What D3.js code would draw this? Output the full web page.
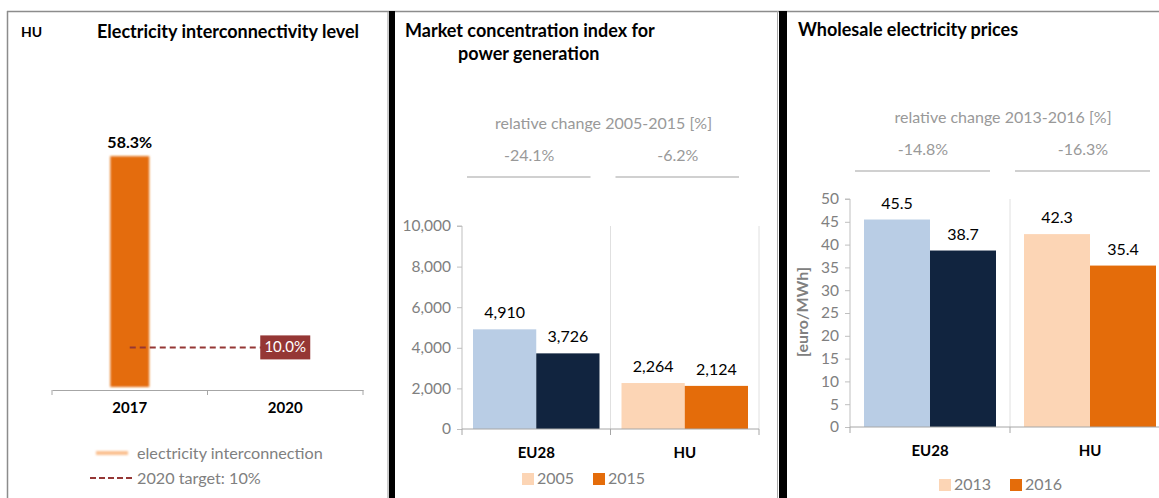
<!DOCTYPE html>
<meta charset="utf-8">
<head>
<style>
  body { margin: 0; background: #fff; font-family: Lato, "Open Sans", sans-serif; }
  svg { display: block; }
</style>
<script src="https://cdn.jsdelivr.net/npm/d3@7"></script>
</head>
<body>
<svg id="vis" width="1159" height="498"></svg>
<script>

// panel 1 - interconnectivity
const interYears = ["2017", "2020"]
const interValues = [58.3]
const interTarget = 10
const interLegend = ["electricity interconnection", "2020 target: 10%"]

// panel 2 - market concentration
const mciCategories = ["EU28", "HU"]
const mciSeries = ["2005", "2015"]
const mciEU28 = [4910, 3726]
const mciHU = [2264, 2124]
const mciChange = ["-24.1%", "-6.2%"]
const mciTicks = [0, 2000, 4000, 6000, 8000, 10000]

// panel 3 - wholesale prices
const priceCategories = ["EU28", "HU"]
const priceSeries = ["2013", "2016"]
const priceEU28 = [45.5, 38.7]
const priceHU = [42.3, 35.4]
const priceChange = ["-14.8%", "-16.3%"]
const priceTicks = [0, 5, 10, 15, 20, 25, 30, 35, 40, 45, 50]

const colors = {
    EU28: ["#b9cde5", "#11243f"],
    HU: ["#fcd5b5", "#e46c0a"]
}
const greyText = "#808080"
const lightText = "#999999"

let svg = d3.select("#vis")

// blur for the glowing bar
let defs = svg.append("defs")
defs.append("filter").attr("id", "soft")
    .attr("x", "-20%").attr("y", "-20%").attr("width", "140%").attr("height", "140%")
    .append("feGaussianBlur").attr("stdDeviation", 0.9)
defs.append("filter").attr("id", "softer")
    .attr("x", "-20%").attr("y", "-100%").attr("width", "140%").attr("height", "300%")
    .append("feGaussianBlur").attr("stdDeviation", 0.9)

function drawFrames() {
    svg.append("line").attr("x1", 7).attr("x2", 1159).attr("y1", 11.5).attr("y2", 11.5)
        .attr("stroke", "#8c8c8c").attr("stroke-width", 1.5)
    svg.append("line").attr("x1", 7.5).attr("x2", 7.5).attr("y1", 11).attr("y2", 498)
        .attr("stroke", "#8c8c8c").attr("stroke-width", 1.5)
    // thick separators
    svg.append("line").attr("x1", 388).attr("x2", 388).attr("y1", 11).attr("y2", 498).attr("stroke", "#999")
    svg.append("rect").attr("x", 389).attr("y", 11).attr("width", 6).attr("height", 487).attr("fill", "#000")
    svg.append("line").attr("x1", 777.5).attr("x2", 777.5).attr("y1", 11).attr("y2", 498).attr("stroke", "#aaa")
    svg.append("rect").attr("x", 779).attr("y", 11).attr("width", 8).attr("height", 487).attr("fill", "#000")
}

function drawInterconnection() {
    let xScale = d3.scaleBand().domain(interYears).range([52, 363])
    let yScale = d3.scaleLinear().domain([0, 60]).range([387, 149.4])
    let g = svg.append("g")

    g.append("text").attr("x", 21).attr("y", 37).text("HU")
        .attr("font-weight", "bold").attr("font-size", 14)
    g.append("text").attr("x", 97).attr("y", 38).text("Electricity interconnectivity level")
        .attr("font-weight", "bold").attr("font-size", 18)

    let barW = 39
    g.selectAll(".ibar").data(interValues).enter().append("rect")
        .attr("x", (d, i) => xScale(interYears[i]) + xScale.bandwidth() / 2 - barW / 2)
        .attr("y", d => yScale(d))
        .attr("width", barW)
        .attr("height", d => yScale(0) - yScale(d))
        .attr("fill", "#e46c0a")
        .attr("filter", "url(#soft)")
    g.selectAll(".ilab").data(interValues).enter().append("text")
        .attr("x", (d, i) => xScale(interYears[i]) + xScale.bandwidth() / 2)
        .attr("y", d => yScale(d) - 8)
        .attr("text-anchor", "middle").attr("font-weight", "bold").attr("font-size", 16)
        .text(d => d.toFixed(1) + "%")

    // target line
    let x0 = xScale(interYears[0]) + xScale.bandwidth() / 2
    let x1 = xScale(interYears[1]) + xScale.bandwidth() / 2
    g.append("line").attr("x1", x0).attr("x2", x1)
        .attr("y1", yScale(interTarget)).attr("y2", yScale(interTarget))
        .attr("stroke", "#953735").attr("stroke-width", 2).attr("stroke-dasharray", "6,4")
    g.append("rect").attr("x", x1 - 25).attr("y", yScale(interTarget) - 12)
        .attr("width", 50).attr("height", 24).attr("fill", "#953735")
    g.append("text").attr("x", x1).attr("y", yScale(interTarget) + 5)
        .attr("text-anchor", "middle").attr("fill", "#fff").attr("font-size", 15)
        .text(interTarget.toFixed(1) + "%")

    // axis
    let axis = d3.axisBottom(xScale).tickSize(0).tickPadding(12)
    let ax = g.append("g").attr("transform", "translate(0,390)").call(axis)
    ax.select(".domain").attr("stroke", "#a6a6a6")
    ax.selectAll(".tick text").attr("font-size", 15).attr("font-weight", "bold")
        .attr("fill", "#000").attr("font-family", "Lato")
    let edges = interYears.map(d => xScale(d)).concat([xScale.range()[1]])
    g.selectAll(".itick").data(edges).enter().append("line")
        .attr("x1", d => d).attr("x2", d => d).attr("y1", 390).attr("y2", 395)
        .attr("stroke", "#a6a6a6")

    // legend
    g.append("rect").attr("x", 96).attr("y", 451).attr("width", 32).attr("height", 4)
        .attr("fill", "#fac090").attr("filter", "url(#softer)")
    g.append("line").attr("x1", 90).attr("x2", 132).attr("y1", 478).attr("y2", 478)
        .attr("stroke", "#953735").attr("stroke-width", 2).attr("stroke-dasharray", "6,3")
    g.selectAll(".ileg").data(interLegend).enter().append("text")
        .attr("x", 137).attr("y", (d, i) => 459 + i * 25)
        .attr("fill", greyText).attr("font-size", 16.2)
        .text(d => d)
}

function drawGrouped(cfg) {
    let { categories, series, values, change, ticks, fmt, left, right, top, bottom, maxV,
        titleLines, changeTitle, changeTitleY, changeY, changeLineY, pad, labelFmt, yTitle, legendX } = cfg
    let g = svg.append("g")

    let xScale = d3.scaleBand().domain(categories).range([left, right])
    let yScale = d3.scaleLinear().domain([0, maxV]).range([bottom, top])
    let sub = d3.scaleBand().domain(series).range([pad, xScale.bandwidth() - pad])

    titleLines.forEach(t => {
        g.append("text").attr("x", t.x).attr("y", t.y).text(t.text)
            .attr("font-weight", "bold").attr("font-size", 18)
    })

    // relative change header
    let mid = (left + right) / 2 - 7
    g.append("text").attr("x", mid).attr("y", changeTitleY).attr("text-anchor", "middle")
        .attr("fill", lightText).attr("font-size", 16).text(changeTitle)
    g.selectAll(".chg").data(change).enter().append("text")
        .attr("x", (d, i) => xScale(categories[i]) + xScale.bandwidth() / 2 - 7)
        .attr("y", changeY).attr("text-anchor", "middle")
        .attr("fill", lightText).attr("font-size", 16).text(d => d)
    g.selectAll(".chgline").data(change).enter().append("line")
        .attr("x1", (d, i) => xScale(categories[i]) + 5)
        .attr("x2", (d, i) => xScale(categories[i]) + xScale.bandwidth() - 20)
        .attr("y1", changeLineY).attr("y2", changeLineY)
        .attr("stroke", "#d0d0d0").attr("stroke-width", 2)

    // separators between categories
    g.selectAll(".sep").data(categories).enter().append("line")
        .attr("x1", d => xScale(d) + xScale.bandwidth()).attr("x2", d => xScale(d) + xScale.bandwidth())
        .attr("y1", top).attr("y2", bottom)
        .attr("stroke", "#e0e0e0")

    // bars
    let groups = g.selectAll(".grp").data(categories).enter().append("g")
        .attr("transform", d => `translate(${xScale(d)},0)`)
    groups.selectAll("rect").data((c, ci) => values[ci].map((v, si) => ({ c, s: series[si], v, si })))
        .enter().append("rect")
        .attr("x", d => sub(d.s))
        .attr("y", d => yScale(d.v))
        .attr("width", sub.bandwidth())
        .attr("height", d => yScale(0) - yScale(d.v))
        .attr("fill", d => colors[d.c][d.si])
    groups.selectAll("text").data((c, ci) => values[ci].map((v, si) => ({ c, s: series[si], v, si })))
        .enter().append("text")
        .attr("x", d => sub(d.s) + sub.bandwidth() / 2)
        .attr("y", d => yScale(d.v) - 11)
        .attr("text-anchor", "middle").attr("font-size", 16).attr("fill", "#000")
        .text(d => labelFmt(d.v))

    // y axis
    let axisY = d3.axisLeft(yScale).tickValues(ticks).tickFormat(fmt).tickSize(5).tickPadding(6)
    let ay = g.append("g").attr("transform", `translate(${left},0)`).call(axisY)
    ay.select(".domain").attr("stroke", "#bfbfbf").attr("d", `M-5,${top}H0V${bottom}`)
    ay.selectAll(".tick line").attr("stroke", "#bfbfbf")
    ay.selectAll(".tick text").attr("fill", greyText).attr("font-size", 15.5).attr("font-family", "Lato")

    // x axis
    let axisX = d3.axisBottom(xScale).tickSize(0).tickPadding(18)
    let ax = g.append("g").attr("transform", `translate(0,${bottom})`).call(axisX)
    ax.select(".domain").attr("stroke", "#a6a6a6").attr("d", `M${left},0H${right}`)
    ax.selectAll(".tick text").attr("font-size", 15).attr("font-weight", "bold")
        .attr("fill", "#000").attr("font-family", "Lato")
    let edges = categories.map(d => xScale(d)).concat([right])
    g.selectAll(".xt").data(edges).enter().append("line")
        .attr("x1", d => d).attr("x2", d => d).attr("y1", bottom).attr("y2", bottom + 6)
        .attr("stroke", "#a6a6a6")

    if (yTitle) {
        g.append("text").attr("transform", `translate(${yTitle.x},${yTitle.y}) rotate(-90)`)
            .attr("text-anchor", "middle").attr("fill", greyText).attr("font-size", 16)
            .attr("font-weight", "bold").text(yTitle.text)
    }

    // legend uses HU colours
    let leg = g.selectAll(".leg").data(series).enter().append("g")
        .attr("transform", (d, i) => `translate(${legendX + i * 71},${cfg.legendY})`)
    leg.append("rect").attr("x", 0).attr("y", -11).attr("width", 12).attr("height", 12)
        .attr("fill", (d, i) => colors.HU[i])
    leg.append("text").attr("x", 15).attr("y", 0).attr("fill", greyText).attr("font-size", 16)
        .text(d => d)
}

drawFrames()
drawInterconnection()

drawGrouped({
    categories: mciCategories, series: mciSeries, values: [mciEU28, mciHU], change: mciChange,
    ticks: mciTicks, fmt: d3.format(","), labelFmt: d3.format(","),
    left: 462, right: 759, top: 226, bottom: 429, maxV: 10000, pad: 11,
    titleLines: [{ x: 405, y: 37, text: "Market concentration index for" },
                 { x: 458, y: 60, text: "power generation" }],
    changeTitle: "relative change 2005-2015 [%]", changeTitleY: 129, changeY: 161, changeLineY: 177,
    legendX: 522, legendY: 484
})

drawGrouped({
    categories: priceCategories, series: priceSeries, values: [priceEU28, priceHU], change: priceChange,
    ticks: priceTicks, fmt: d3.format("d"), labelFmt: d3.format(".1f"),
    left: 850, right: 1170, top: 199, bottom: 427, maxV: 50, pad: 14,
    titleLines: [{ x: 798, y: 36, text: "Wholesale electricity prices" }],
    changeTitle: "relative change 2013-2016 [%]", changeTitleY: 123, changeY: 155, changeLineY: 171,
    yTitle: { x: 808, y: 312, text: "[euro/MWh]" },
    legendX: 939, legendY: 490
})

</script>
</body>
